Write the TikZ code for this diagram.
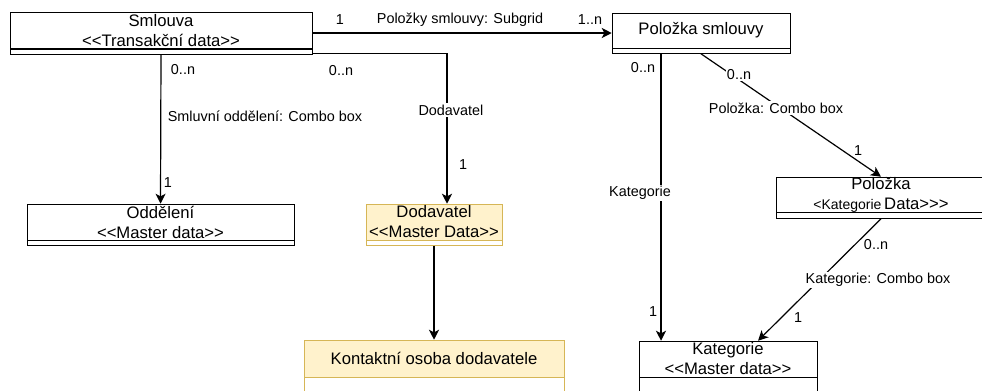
\documentclass[tikz,border=0pt]{standalone}
\usepackage{fontspec}
\setmainfont[Ligatures=TeXOff]{Liberation Sans}
\usetikzlibrary{calc}
\usetikzlibrary{positioning}
\usetikzlibrary{arrows.meta}

\definecolor{mdfill}{HTML}{FFF2CC}
\definecolor{mdline}{HTML}{D6B656}

\tikzset{
    cls/.style = {draw, rectangle, align=center, inner sep=0pt, minimum height=36*0.75pt, font=\fontsize{12.5}{15}\selectfont},
    strip/.style = {draw, rectangle, inner sep=0pt, minimum height=5*0.75pt},
    body/.style = {draw, rectangle, inner sep=0pt, minimum height=40*0.75pt},
    assoc/.style = {-{Stealth[length=7.5pt,width=7.5pt,inset=2pt]}, line width=0.9pt},
    lbl/.style = {font=\fontsize{10.8}{13}\selectfont, inner sep=1pt},
    lblw/.style = {lbl, fill=white},
}

\begin{document}
\begin{tikzpicture}[x=0.75pt, y=-0.75pt]
    \useasboundingbox (0,0) rectangle (982,390);
    % class boxes
    \node[cls, minimum width=302*0.75pt] (smlouva) at (161,30.5) {Smlouva\\<<Transakční data>>};
    \node[strip, minimum width=302*0.75pt, below=0pt of smlouva] (smlouvaS) {};
    \node[cls, minimum width=178*0.75pt, minimum height=35*0.75pt] (polsml) at (701,30.5) {Položka smlouvy};
    \node[strip, minimum width=178*0.75pt, below=0pt of polsml] (polsmlS) {};
    \node[cls, minimum width=267*0.75pt] (oddeleni) at (160.5,222) {Oddělení\\<<Master data>>};
    \node[strip, minimum width=267*0.75pt, below=0pt of oddeleni] (oddeleniS) {};
    \node[cls, draw=mdline, fill=mdfill, minimum width=136*0.75pt] (dodavatel) at (434,222) {Dodavatel\\<<Master Data>>};
    \node[strip, draw=mdline, fill=white, minimum width=136*0.75pt, below=0pt of dodavatel] (dodavatelS) {};
    \node[cls, draw=mdline, fill=mdfill, minimum width=260*0.75pt, minimum height=37*0.75pt] (kontakt) at (434,358.5) {Kontaktní osoba dodavatele};
    \node[body, draw=mdline, fill=white, minimum width=260*0.75pt, below=0pt of kontakt] (kontaktB) {};
    \node[cls, minimum width=210*0.75pt, minimum height=35*0.75pt] (polozka) at (881,194.5) {Položka\\{\fontsize{10.5}{15}\selectfont <Kategorie}\,Data>>>};
    \node[strip, minimum width=210*0.75pt, minimum height=6*0.75pt, below=0pt of polozka] (polozkaS) {};
    \node[cls, minimum width=178*0.75pt] (kategorie) at (728,359) {Kategorie\\<<Master data>>};
    \node[body, minimum width=178*0.75pt, below=0pt of kategorie] (kategorieB) {};

    % associations
    \draw[assoc] ($(smlouva.east)+(0,2.5)$) -- ($(polsml.west)+(0,2.5)$);
    \draw[assoc] (smlouvaS.south) -- (oddeleni.north);
    \draw[assoc] ($(smlouvaS.south east)+(0,-1)$) -| ($(dodavatel.north)+(13,0)$);
    \draw[assoc] (dodavatelS.south) -- (kontakt.north);
    \draw[assoc] ($(polsmlS.south)+(-40,0)$) -- ($(kategorie.north)+(-67,0)$);
    \draw[assoc] (polsmlS.south) -- (polozka.north);
    \draw[assoc] (polozkaS.south) -- ($(kategorie.north)+(30,0)$);

    % labels
    \node[lbl] (m1) at (340,20) {1};
    \node[lbl] (subgrid) at (460,20) {Položky smlouvy: Subgrid};
    \node[lbl] (m2) at (590,20) {1..n};
    \node[lbl] (m3) at (183,70) {0..n};
    \node[lbl] (oddlbl) at (265,116) {Smluvní oddělení: Combo box};
    \node[lbl] (m4) at (168,183) {1};
    \node[lbl] (m5) at (341,71) {0..n};
    \node[lblw] (dodlbl) at (451,110) {Dodavatel};
    \node[lbl] (m6) at (463,165) {1};
    \node[lbl] (m7) at (643,68) {0..n};
    \node[lblw] (katlbl) at (640,193) {Kategorie};
    \node[lbl] (m8) at (653,312) {1};
    \node[lblw] (m9) at (739,75) {0..n};
    \node[lblw] (pollbl) at (776,108) {Položka: Combo box};
    \node[lbl] (m10) at (858,151) {1};
    \node[lbl] (m11) at (876,245) {0..n};
    \node[lblw] (katcb) at (878,280) {Kategorie: Combo box};
    \node[lbl] (m12) at (798,318) {1};

\end{tikzpicture}
\end{document}
